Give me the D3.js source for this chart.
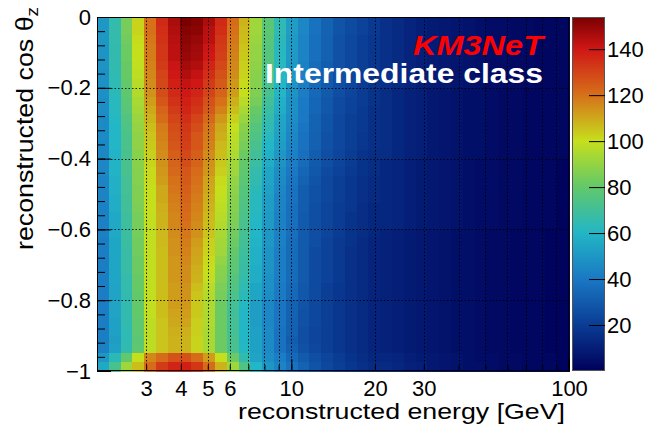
<!DOCTYPE html>
<html>
<head>
<meta charset="utf-8">
<script src="https://cdn.jsdelivr.net/npm/d3@7"></script>
<style>
  html, body { margin: 0; padding: 0; background: #ffffff; }
  svg { display: block; font-family: "Liberation Sans", Arial, Helvetica, sans-serif; }
</style>
</head>
<body>
<svg id="chart" width="655" height="429"></svg>
<script>
// Histogram binning: 40 bins in log10(E/GeV), 40 bins in cos(theta_z)
const logEnergyRange = [0.3, 2.0];
const cosZenithRange = [-1, 0];

// Event counts. counts[r][c]: r = 0 is the top row (cos just below 0),
// r = 39 the bottom row (cos just above -1); c = 0 is the lowest energy bin.
const counts = [
  [50,66,84,102,120,136,146,154,152,146,136,121,108,92,78,64,52,45,38,33,28,25,22,19,16,14,12,10,9,8,7,6,5,4,4,3,3,2,2,2],
  [50,66,84,102,120,135,145,152,151,144,135,120,107,92,78,64,52,45,38,33,28,25,22,19,16,14,12,10,9,8,7,6,5,4,4,3,3,2,2,2],
  [50,66,83,101,119,134,144,151,149,143,133,119,106,91,77,63,51,44,37,32,27,24,21,18,16,14,12,10,9,8,7,6,5,4,4,3,3,2,2,2],
  [49,65,82,100,118,133,143,150,148,141,132,118,105,90,76,62,51,44,37,32,27,24,21,18,16,14,12,10,9,8,7,6,5,4,4,3,3,2,2,2],
  [49,65,82,100,118,133,143,149,147,140,131,117,104,90,76,62,51,44,37,32,27,24,21,18,16,14,12,10,9,8,7,6,5,4,4,3,3,2,2,2],
  [49,65,81,99,117,132,141,147,145,137,129,116,103,89,75,62,50,43,36,31,27,24,21,18,16,14,12,10,9,8,7,6,5,4,4,3,3,2,2,2],
  [48,64,81,98,116,130,140,145,142,135,127,115,102,88,74,61,50,43,36,31,26,23,20,17,16,14,12,10,9,8,7,6,5,4,4,3,3,2,2,2],
  [48,64,80,97,115,129,138,142,140,132,125,113,101,87,73,60,49,42,35,30,26,23,20,17,16,14,12,10,9,8,7,6,5,4,4,3,3,2,2,2],
  [48,63,79,96,114,128,136,140,137,130,123,112,100,86,72,60,49,42,35,30,26,23,20,17,15,13,11,10,8,7,6,5,5,4,3,3,2,2,2,2],
  [47,62,78,94,112,126,134,138,135,127,120,109,97,84,70,58,48,41,34,29,25,22,20,17,15,13,11,10,8,7,6,5,5,4,3,3,2,2,2,2],
  [47,62,77,93,110,123,132,137,133,125,117,106,94,81,68,57,48,40,34,29,25,22,19,16,15,13,11,10,8,7,6,5,5,4,3,3,2,2,2,2],
  [46,61,75,91,108,121,130,135,130,122,113,103,91,79,66,55,47,40,33,28,24,21,19,16,15,13,11,10,8,7,6,5,5,4,3,3,2,2,2,2],
  [46,60,74,90,106,118,128,133,128,119,110,100,88,76,64,54,46,39,33,28,24,21,19,16,15,13,11,10,8,7,6,5,5,4,3,3,2,2,2,2],
  [46,60,73,89,105,117,127,132,126,118,109,98,86,74,62,53,45,38,32,27,24,21,18,16,15,13,11,10,8,7,6,5,5,4,3,3,2,2,2,2],
  [45,60,73,89,104,116,126,131,126,117,107,97,84,72,60,52,44,38,32,27,24,21,18,16,15,13,11,10,8,7,6,5,5,4,3,3,2,2,2,2],
  [45,59,72,88,103,115,124,129,124,115,106,95,82,70,58,50,43,37,31,26,23,20,17,15,15,13,11,10,8,7,6,5,5,4,3,3,2,2,2,2],
  [45,59,72,88,102,114,123,128,123,114,104,93,80,68,57,49,42,36,30,26,23,20,17,15,13,12,10,9,8,7,6,5,4,4,3,3,2,2,2,1],
  [45,59,72,87,101,113,122,126,121,113,103,92,79,66,55,47,40,34,29,25,22,19,17,15,13,12,10,9,8,7,6,5,4,4,3,3,2,2,2,1],
  [44,58,71,87,101,112,120,125,120,111,101,90,78,65,54,46,39,33,28,24,21,18,16,14,13,12,10,9,8,7,6,5,4,4,3,3,2,2,2,1],
  [44,58,71,86,100,110,119,124,119,110,100,89,76,63,53,45,38,31,27,24,21,18,16,14,13,12,10,9,8,7,6,5,4,4,3,3,2,2,2,1],
  [44,57,70,86,100,110,118,123,118,109,99,88,75,62,52,44,38,31,27,24,21,18,16,14,13,12,10,9,8,7,6,5,4,4,3,3,2,2,2,1],
  [43,57,70,85,100,109,117,122,117,108,98,87,74,62,52,44,37,31,26,23,20,18,15,13,13,12,10,9,8,7,6,5,4,4,3,3,2,2,2,1],
  [43,56,69,84,99,108,116,121,116,107,97,86,73,61,51,43,37,30,26,23,20,17,15,13,13,12,10,9,8,7,6,5,4,4,3,3,2,2,2,1],
  [43,56,69,84,99,108,116,120,115,106,96,85,72,60,51,43,37,30,26,23,20,17,15,13,13,12,10,9,8,7,6,5,4,4,3,3,2,2,2,1],
  [43,56,68,84,99,107,115,119,114,105,94,83,71,60,50,43,37,30,26,23,20,17,15,13,11,10,9,8,7,6,5,5,4,3,3,2,2,2,1,1],
  [42,55,68,83,99,107,114,118,112,103,93,82,70,59,50,43,36,30,26,22,19,17,14,12,11,10,9,8,7,6,5,5,4,3,3,2,2,2,1,1],
  [42,55,67,83,99,106,114,117,111,102,92,80,69,58,49,42,36,30,25,22,19,16,14,12,11,10,9,8,7,6,5,5,4,3,3,2,2,2,1,1],
  [42,55,67,82,99,106,113,116,110,101,90,79,68,58,49,42,36,30,25,22,19,16,14,12,11,10,9,8,7,6,5,5,4,3,3,2,2,2,1,1],
  [42,55,67,82,99,106,113,115,109,100,88,78,67,57,49,42,36,30,25,22,19,16,14,12,11,10,9,8,7,6,5,5,4,3,3,2,2,2,1,1],
  [42,55,66,81,99,106,113,115,108,99,87,76,66,57,48,42,36,30,25,22,19,16,14,12,11,10,9,8,7,6,5,5,4,3,3,2,2,2,1,1],
  [42,54,66,81,99,106,112,114,106,97,85,75,64,55,48,41,35,29,25,21,18,16,14,12,11,10,9,8,7,6,5,5,4,3,3,2,2,2,1,1],
  [42,54,65,80,99,106,112,114,105,96,84,73,63,55,47,41,35,29,25,21,18,16,14,12,11,10,9,8,7,6,5,5,4,3,3,2,2,2,1,1],
  [42,54,65,80,99,106,112,113,104,95,82,71,61,52,45,39,33,28,24,21,18,16,14,12,11,10,9,8,7,6,5,5,4,3,3,2,2,2,1,1],
  [42,54,65,80,99,106,111,112,104,95,82,70,60,52,45,39,33,27,24,21,18,16,14,12,11,10,9,8,7,6,5,5,4,3,3,2,2,2,1,1],
  [42,53,65,79,98,105,110,111,103,95,82,71,60,52,45,39,32,27,24,21,18,16,14,12,11,10,9,8,7,6,5,5,4,3,3,2,2,2,1,1],
  [42,53,64,79,98,105,109,109,103,94,82,71,60,53,46,38,32,26,23,21,18,16,14,12,11,10,9,8,7,6,5,5,4,3,3,2,2,2,1,1],
  [42,52,64,78,98,105,108,108,102,94,82,72,60,53,46,38,31,26,23,21,18,16,14,12,11,10,9,8,7,6,5,5,4,3,3,2,2,2,1,1],
  [43,53,65,79,98,105,108,108,102,94,82,72,61,53,46,38,32,27,24,21,18,16,14,12,11,10,9,8,7,6,5,5,4,3,3,2,2,2,1,1],
  [50,63,80,100,116,121,127,127,121,112,100,82,65,54,47,42,35,30,26,23,20,17,15,13,13,12,10,9,8,7,6,5,4,4,3,3,2,2,2,1],
  [56,72,92,106,121,132,137,138,133,121,108,92,74,60,50,44,38,33,28,24,21,18,16,14,14,13,11,10,8,7,6,5,5,4,3,3,2,2,2,1]
];

// Axis ticks
const xGridValues = [3,4,5,6,7,8,9,10,20,30,40,50,60,70,80,90];
const xLabelValues = [3,4,5,6,10,20,30,100];
const xDecadeValues = [10,100];
const yMajorValues = [0,-0.2,-0.4,-0.6,-0.8,-1];
const yMinorValues = d3.range(26).map(i => -1 + i * 0.04);
const yGridValues = [-0.2,-0.4,-0.6,-0.8];
const zTickValues = [20,40,60,80,100,120,140];

// Colour palette (fraction of the z range -> colour)
const paletteFractions = [0, 0.13, 0.26, 0.39, 0.52, 0.65, 0.78, 0.91, 1];
const paletteColors = ["#00005a","#0a3c94","#1a78c4","#22b6c6","#62c86a","#c6df1c","#d6701a","#cf1616","#7a0000"];

// Layout
const frame = { left: 97, right: 569, top: 17, bottom: 371 };
const bar = { left: 572, right: 605 };

const svg = d3.select("#chart");

const x = d3.scaleLog()
  .domain([Math.pow(10, logEnergyRange[0]), Math.pow(10, logEnergyRange[1])])
  .range([frame.left, frame.right]);
const y = d3.scaleLinear().domain(cosZenithRange).range([frame.bottom, frame.top]);

const zMax = d3.max(counts.flat());
const color = d3.scaleLinear()
  .domain(paletteFractions.map(f => f * zMax))
  .range(paletteColors)
  .interpolate(d3.interpolateRgb)
  .clamp(true);

const nRows = counts.length;
const nCols = counts[0].length;
const dLog = (logEnergyRange[1] - logEnergyRange[0]) / nCols;
const dCos = (cosZenithRange[1] - cosZenithRange[0]) / nRows;

const cells = [];
counts.forEach((row, r) => row.forEach((v, c) => {
  cells.push({
    e0: Math.pow(10, logEnergyRange[0] + c * dLog),
    e1: Math.pow(10, logEnergyRange[0] + (c + 1) * dLog),
    c1: cosZenithRange[1] - r * dCos,
    c0: cosZenithRange[1] - (r + 1) * dCos,
    v
  });
}));

// 2D histogram cells
svg.append("g")
  .attr("shape-rendering", "crispEdges")
  .selectAll("rect")
  .data(cells)
  .join("rect")
  .attr("x", d => x(d.e0))
  .attr("y", d => y(d.c1))
  .attr("width", d => x(d.e1) - x(d.e0) + 0.5)
  .attr("height", d => y(d.c0) - y(d.c1) + 0.5)
  .attr("fill", d => color(d.v));

// Dotted grid
const grid = svg.append("g")
  .attr("stroke", "#000")
  .attr("stroke-width", 1)
  .attr("stroke-dasharray", "1.5,2")
  .attr("stroke-opacity", 0.85);
grid.selectAll("line.vx")
  .data(xGridValues)
  .join("line")
  .attr("x1", d => Math.round(x(d)) + 0.5).attr("x2", d => Math.round(x(d)) + 0.5)
  .attr("y1", frame.top).attr("y2", frame.bottom);
grid.selectAll("line.hy")
  .data(yGridValues)
  .join("line")
  .attr("class", "hy")
  .attr("x1", frame.left).attr("x2", frame.right)
  .attr("y1", d => Math.round(y(d)) + 0.5).attr("y2", d => Math.round(y(d)) + 0.5);

// Axes (ticks pointing into the frame)
const styleAxis = g => {
  g.select(".domain").remove();
  g.selectAll("text").attr("font-size", 22).attr("fill", "#000")
    .attr("font-family", "'Liberation Sans', Arial, sans-serif");
  g.selectAll("line").attr("stroke", "#000");
};

// y minor ticks
svg.append("g")
  .attr("transform", `translate(${frame.left},0)`)
  .call(d3.axisLeft(y).tickValues(yMinorValues).tickSize(-8).tickFormat(""))
  .call(styleAxis);
// y major ticks with labels
svg.append("g")
  .attr("transform", `translate(${frame.left},0)`)
  .call(d3.axisLeft(y).tickValues(yMajorValues).tickSize(-14).tickPadding(6)
    .tickFormat(d => d === 0 ? "0" : d3.format(".1~f")(d).replace("-", "\u2212")))
  .call(styleAxis);

// x ticks: short ones at every grid value, longer at decades, labels below
svg.append("g")
  .attr("transform", `translate(0,${frame.bottom})`)
  .call(d3.axisBottom(x).tickValues(xGridValues).tickSize(-6).tickFormat(""))
  .call(styleAxis);
svg.append("g")
  .attr("transform", `translate(0,${frame.bottom})`)
  .call(d3.axisBottom(x).tickValues(xDecadeValues).tickSize(-12).tickFormat(""))
  .call(styleAxis);
svg.append("g")
  .attr("transform", `translate(0,${frame.bottom})`)
  .call(d3.axisBottom(x).tickValues(xLabelValues).tickSize(0).tickPadding(9).tickFormat(d3.format("d")))
  .call(styleAxis);

// Frame
svg.append("rect")
  .attr("x", frame.left + 0.5).attr("y", frame.top + 0.5)
  .attr("width", frame.right - frame.left - 1).attr("height", frame.bottom - frame.top - 1)
  .attr("fill", "none").attr("stroke", "#000").attr("stroke-width", 1);

// Colour bar
const zScale = d3.scaleLinear().domain([0, zMax]).range([frame.bottom, frame.top]);
const defs = svg.append("defs");
const grad = defs.append("linearGradient")
  .attr("id", "palette").attr("x1", 0).attr("y1", 1).attr("x2", 0).attr("y2", 0);
grad.selectAll("stop")
  .data(paletteFractions)
  .join("stop")
  .attr("offset", d => d)
  .attr("stop-color", (d, i) => paletteColors[i]);
svg.append("rect")
  .attr("x", bar.left).attr("y", frame.top)
  .attr("width", bar.right - bar.left).attr("height", frame.bottom - frame.top)
  .attr("fill", "url(#palette)");
svg.append("rect")
  .attr("x", bar.left + 0.5).attr("y", frame.top + 0.5)
  .attr("width", bar.right - bar.left - 1).attr("height", frame.bottom - frame.top - 1)
  .attr("fill", "none").attr("stroke", "#555").attr("stroke-width", 1);
svg.append("g")
  .attr("transform", `translate(${bar.right},0)`)
  .call(d3.axisRight(zScale).tickValues(zTickValues).tickSize(-16).tickPadding(2).tickFormat(d3.format("d")))
  .call(styleAxis);

// Axis titles
svg.append("text")
  .attr("x", 565).attr("y", 419)
  .attr("text-anchor", "end")
  .attr("font-size", 22)
  .attr("textLength", 327).attr("lengthAdjust", "spacingAndGlyphs")
  .text("reconstructed energy [GeV]");

const yTitle = svg.append("text")
  .attr("transform", "translate(33,7) rotate(-90)")
  .attr("text-anchor", "end")
  .attr("font-size", 24)
  .attr("textLength", 243).attr("lengthAdjust", "spacingAndGlyphs");
yTitle.append("tspan").text("reconstructed cos \u03b8");
yTitle.append("tspan").attr("font-size", 17).attr("dy", "0.3em").text("z");

// Labels inside the frame
svg.append("text")
  .attr("x", 543).attr("y", 55)
  .attr("text-anchor", "end")
  .attr("font-size", 28).attr("font-weight", "bold").attr("font-style", "italic")
  .attr("fill", "#ff0000")
  .attr("textLength", 130).attr("lengthAdjust", "spacingAndGlyphs")
  .text("KM3NeT");
svg.append("text")
  .attr("x", 543).attr("y", 83)
  .attr("text-anchor", "end")
  .attr("font-size", 28).attr("font-weight", "bold")
  .attr("fill", "#ffffff")
  .attr("textLength", 278).attr("lengthAdjust", "spacingAndGlyphs")
  .text("Intermediate class");
</script>
</body>
</html>
